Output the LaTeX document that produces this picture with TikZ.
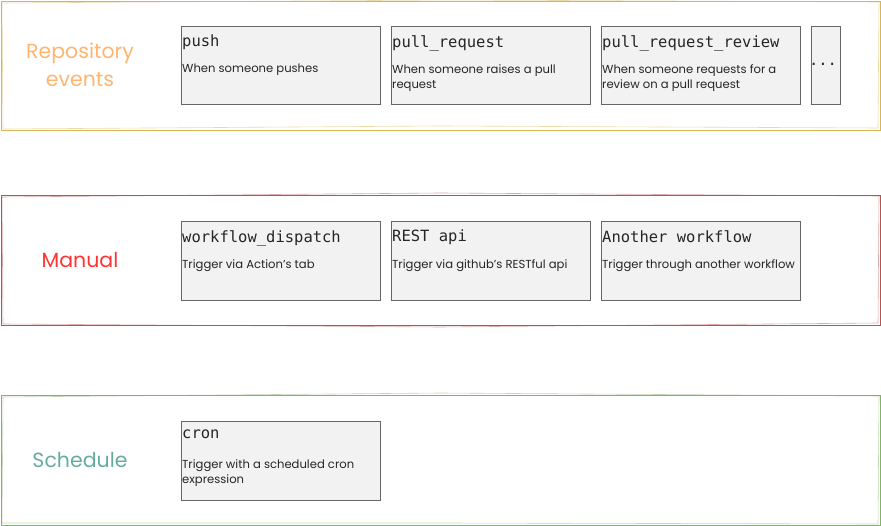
\documentclass[tikz,border=0pt]{standalone}
\usepackage{fontspec}
\setmainfont{Poppins}
\newfontfamily\monofont{DejaVu Sans Mono}
\begin{document}
\begin{tikzpicture}[x=1pt,y=-1pt,
  band/.style={line width=0.9pt},
  bandb/.style={line width=0.6pt, opacity=0.5},
  evbox/.style={draw=black!60, fill=black!5, line width=0.8pt},
  evtitle/.style={anchor=north west, inner sep=0pt, font=\monofont\fontsize{15.5}{18}\selectfont, text=black!85},
  evdesc/.style={anchor=north west, inner sep=0pt, align=left, font=\fontsize{11.6}{15}\selectfont, text=black!85},
  grplabel/.style={align=center, font=\fontsize{20.5}{28}\selectfont}
]
\definecolor{gold}{HTML}{D6B656}
\definecolor{redb}{HTML}{B85450}
\definecolor{greenb}{HTML}{82B366}
\definecolor{orangel}{HTML}{FFB570}
\definecolor{redl}{HTML}{FF3333}
\definecolor{tealb}{HTML}{67AB9F}
\useasboundingbox (0,0) rectangle (881,526);
% bands
\draw[band, gold] (1,1) rectangle (880,130);
\draw[bandb, gold] (2,3) -- (450,0) -- (879,2) -- (878,128) -- (440,126) -- (3,129) -- cycle;
\draw[band, redb] (1,195) rectangle (880,325);
\draw[bandb, redb] (2,197) -- (440,193) -- (879,196) -- (878,323) -- (440,327) -- (3,324) -- cycle;
\draw[band, greenb] (1,395) rectangle (880,525);
\draw[bandb, greenb] (3,397) -- (440,393) -- (879,396) -- (878,524) -- (440,523) -- (2,523) -- cycle;
% labels
\node[grplabel, text=orangel] (lrepo) at (80,65) {Repository\\events};
\node[grplabel, text=redl] (lman) at (80,260) {Manual};
\node[grplabel, text=tealb] (lsch) at (80,460) {Schedule};
% repository boxes
\draw[evbox] (181,26) rectangle (380,104);
\node[evtitle] (tpush) at (182,35) {push};
\node[evdesc] (dpush) at (182,64) {When someone pushes};
\draw[evbox] (391,26) rectangle (590,104);
\node[evtitle] (tpr) at (392,35) {pull\_request};
\node[evdesc] (dpr) at (392,64) {When someone raises a pull\\request};
\draw[evbox] (601,26) rectangle (800,104);
\node[evtitle] (tprr) at (602,35) {pull\_request\_review};
\node[evdesc] (dprr) at (602,64) {When someone requests for a\\review on a pull request};
\draw[evbox] (811,26) rectangle (840,104);
\node[inner sep=0pt, font=\monofont\fontsize{15.5}{18}\selectfont, text=black!85] (dots) at (823,64) {...};
% manual boxes
\draw[evbox] (181,221) rectangle (380,300);
\node[evtitle] (twd) at (182,230) {workflow\_dispatch};
\node[evdesc] (dwd) at (182,259) {Trigger via Action's tab};
\draw[evbox] (391,221) rectangle (590,300);
\node[evtitle] (trest) at (392,230) {REST api};
\node[evdesc] (drest) at (392,259) {Trigger via github's RESTful api};
\draw[evbox] (601,221) rectangle (800,300);
\node[evtitle] (taw) at (602,230) {Another workflow};
\node[evdesc] (daw) at (602,259) {Trigger through another workflow};
% schedule
\draw[evbox] (181,421) rectangle (380,500);
\node[evtitle] (tcron) at (182,430) {cron};
\node[evdesc] (dcron) at (182,459) {Trigger with a scheduled cron\\expression};
\end{tikzpicture}
\end{document}
